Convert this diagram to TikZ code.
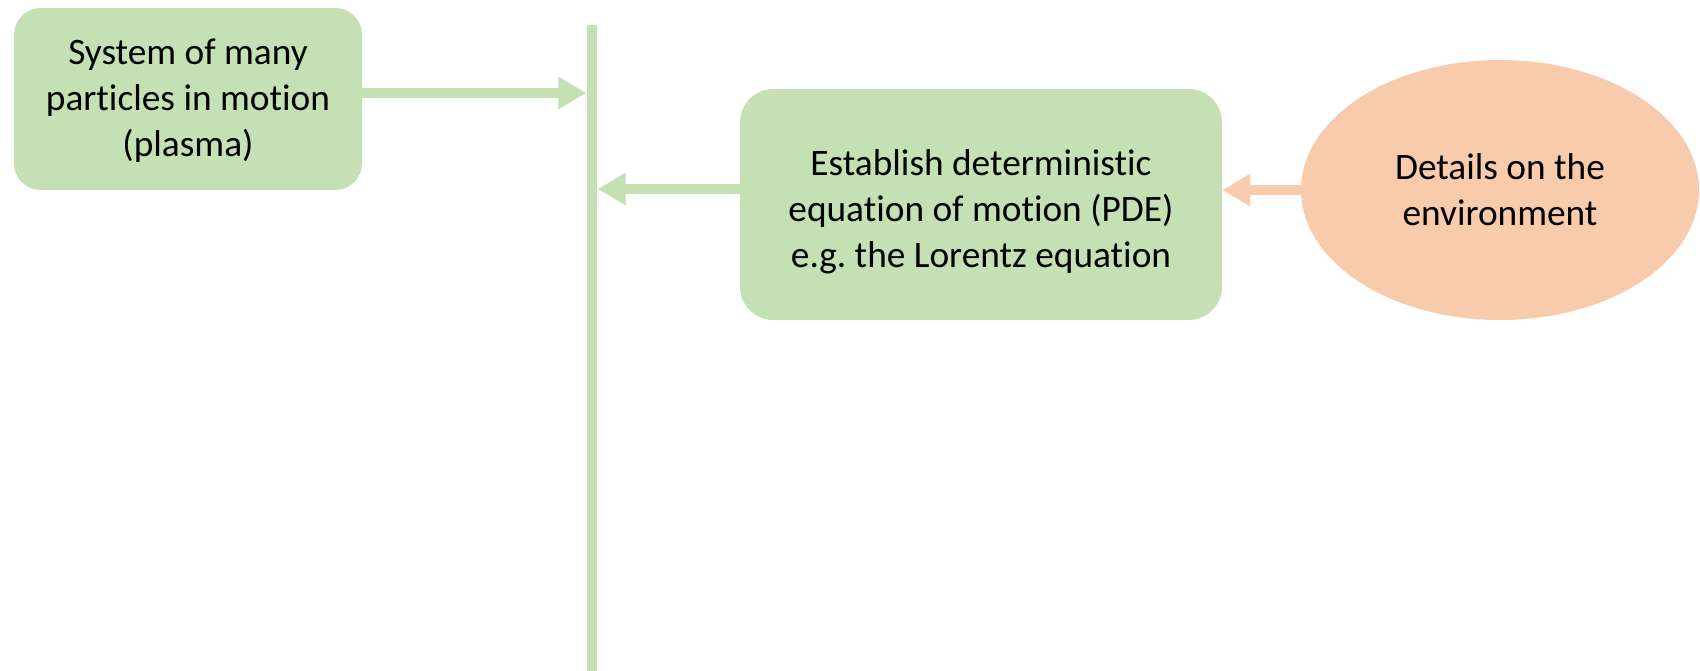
\documentclass[tikz,border=0pt]{standalone}
\usepackage{fontspec}
\setmainfont[Ligatures=NoCommon]{Carlito}
\usetikzlibrary{arrows.meta,shapes.geometric}
\definecolor{boxgreen}{HTML}{C5E0B4}
\definecolor{envorange}{HTML}{F8CBAD}
\frenchspacing
\begin{document}
\begin{tikzpicture}[x=0.75pt,y=-0.75pt,
  txt/.style={align=center,font=\fontsize{28}{34.5}\selectfont,text=black},
  greenbox/.style={txt,fill=boxgreen,draw=none,inner sep=0pt},
  arr/.style={line width=8pt,-{Triangle[length=21pt,width=23pt]}}]
  \useasboundingbox (0,0) rectangle (1700,671);
  % source and process boxes
  \node[greenbox,rounded corners=20pt,minimum width=261pt,minimum height=136.5pt] (sys) at (188,99) {};
  \node[txt] (systext) at ([yshift=-1.5pt]sys.center)
    {System of many\\particles in motion\\(plasma)};
  \node[greenbox,rounded corners=25pt,minimum width=361.5pt,minimum height=173.25pt] (pde) at (981,204.5) {};
  \node[txt] (pdetext) at ([yshift=-5.5pt]pde.center)
    {Establish deterministic\\equation of motion (PDE)\\e.g. the Lorentz equation};
  \node[txt,ellipse,fill=envorange,inner sep=0pt,minimum width=298.5pt,minimum height=195pt] (env) at (1500,190)
    {Details on the\\environment};
  % vertical collecting bar
  \node[fill=boxgreen,inner sep=0pt,minimum width=8pt,minimum height=484.5pt,anchor=north] (bar) at (592,25) {};
  % connectors
  \draw[arr,draw=boxgreen,fill=boxgreen] ([yshift=4.5pt]sys.east) -- ([yshift=4.5pt]sys.east -| bar.west);
  \draw[arr,draw=boxgreen,fill=boxgreen] ([yshift=11.6pt]pde.west) -- ([yshift=11.6pt]pde.west -| bar.east);
  \draw[arr,draw=envorange,fill=envorange] (env.west) -- (env.west -| pde.east);
\end{tikzpicture}
\end{document}
